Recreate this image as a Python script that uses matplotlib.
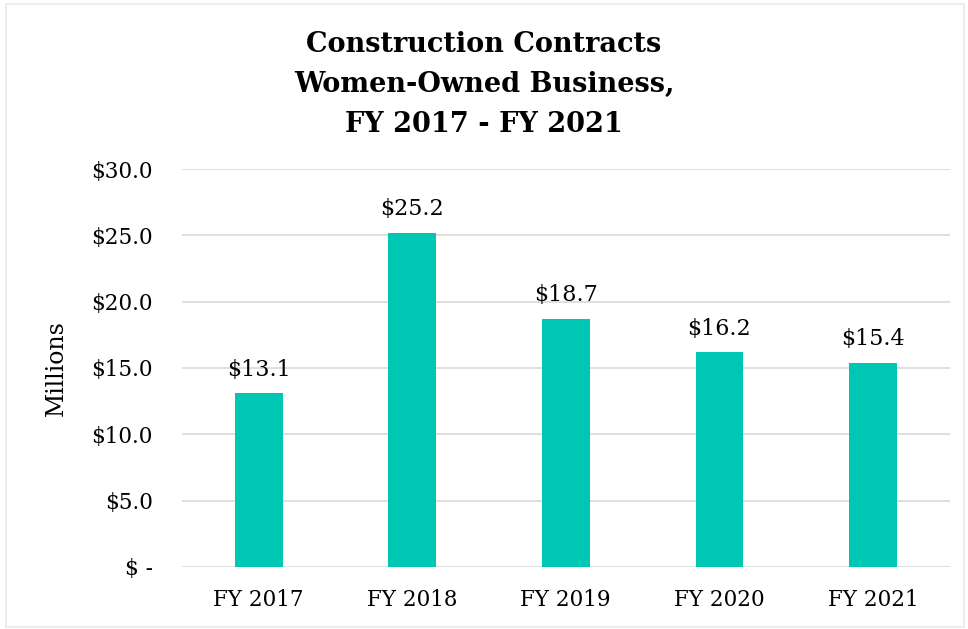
import matplotlib.pyplot as plt
from matplotlib.patches import Rectangle

# chart data
years = ['FY 2017', 'FY 2018', 'FY 2019', 'FY 2020', 'FY 2021']
values = [13.1, 25.2, 18.7, 16.2, 15.4]
yticks = [0, 5, 10, 15, 20, 25, 30]
ytick_labels = ['$ -', '$5.0', '$10.0', '$15.0', '$20.0', '$25.0', '$30.0']

plt.rcParams['font.family'] = ['DejaVu Serif']

fig = plt.figure(figsize=(9.68, 6.29), dpi=100)
fig.patches.append(Rectangle((0.006, 0.003), 0.99, 0.99, transform=fig.transFigure,
                             fill=False, edgecolor='#ebebe0', linewidth=1.2))

ax = fig.add_axes([0.188, 0.0986, 0.793, 0.6327])
x = range(len(years))
bars = ax.bar(x, values, width=0.31, color='#00c7b3', zorder=3)

for xi, v in zip(x, values):
    ax.annotate(f'${v:.1f}', (xi, v), xytext=(0, 9), textcoords='offset points',
                ha='center', va='bottom', fontsize=16)

ax.set_xlim(-0.5, 4.5)
ax.set_ylim(0, 30)
ax.set_yticks(yticks)
ax.set_yticklabels(ytick_labels, fontsize=15.5)
ax.set_xticks(list(x))
ax.set_xticklabels(years, fontsize=15.5)
ax.tick_params(axis='both', length=0)
ax.tick_params(axis='y', pad=21)
ax.tick_params(axis='x', pad=16)
ax.grid(axis='y', color='#d9d9d9', linewidth=1.2, zorder=0)
for s in ax.spines.values():
    s.set_visible(False)
ax.set_ylabel('Millions', fontsize=17, labelpad=17)

fig.text(0.5, 0.865, 'Construction Contracts\nWomen-Owned Business,\nFY 2017 - FY 2021',
         ha='center', va='center', fontsize=19.5, fontweight='bold', linespacing=1.62)

fig.savefig('out.png', dpi=100)
